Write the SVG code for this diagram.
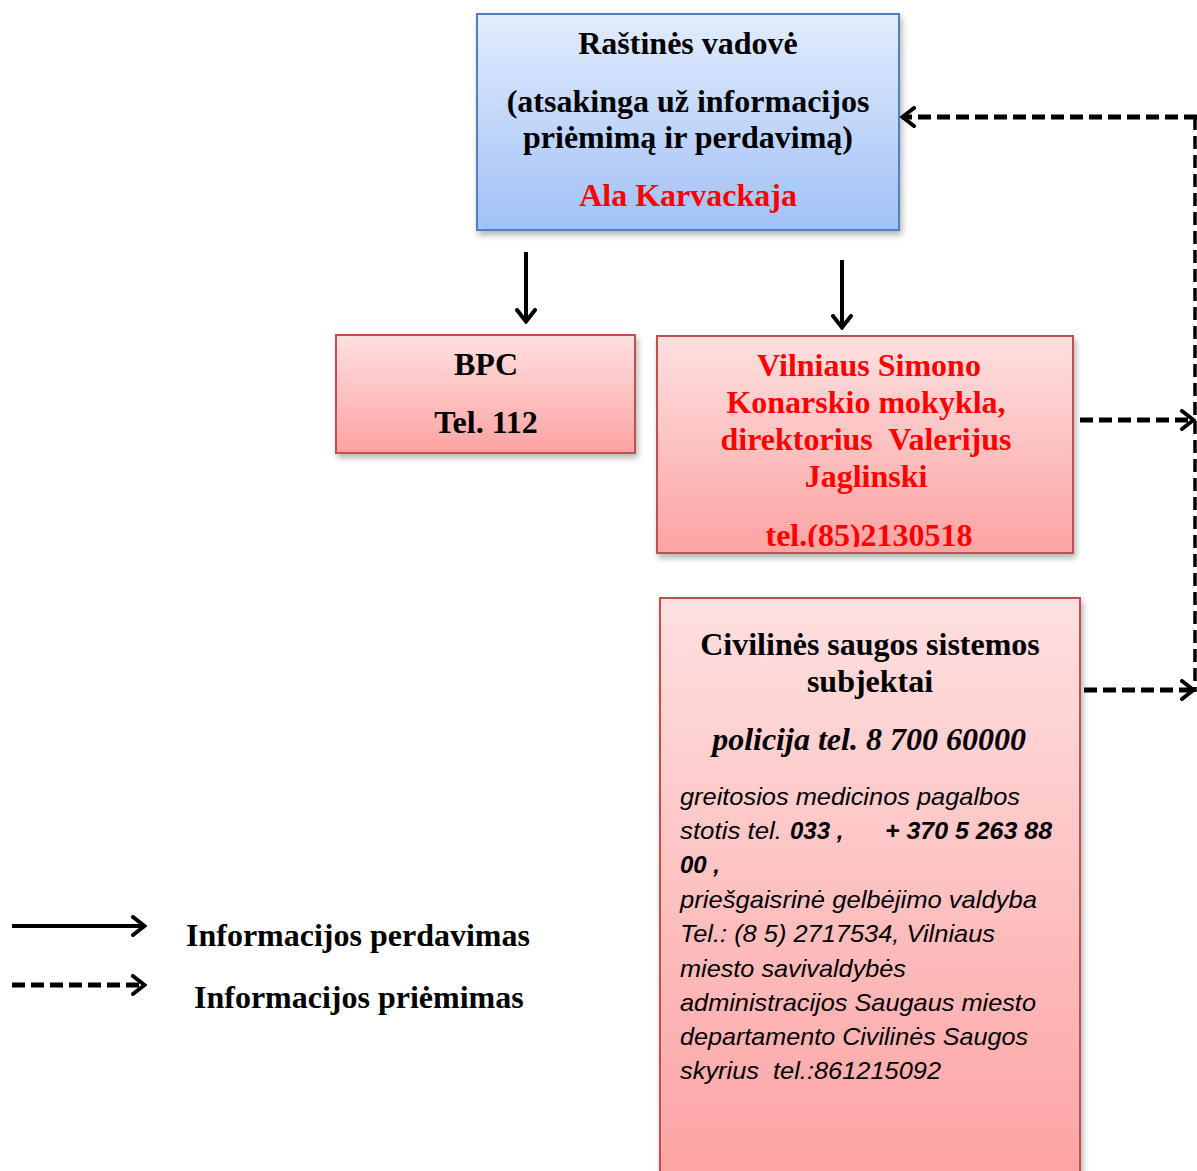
<svg xmlns="http://www.w3.org/2000/svg" width="1197" height="1171" viewBox="0 0 1197 1171">
<defs>
<linearGradient id="gBlue" x1="0" y1="0" x2="0" y2="1">
<stop offset="0" stop-color="#e2ecfd"/>
<stop offset="1" stop-color="#a2c1f7"/>
</linearGradient>
<linearGradient id="gRed" x1="0" y1="0" x2="0" y2="1">
<stop offset="0" stop-color="#fee0e0"/>
<stop offset="1" stop-color="#fda3a3"/>
</linearGradient>
<filter id="sh" x="-5%" y="-5%" width="115%" height="120%">
<feDropShadow dx="2" dy="4" stdDeviation="3" flood-color="#000" flood-opacity="0.3"/>
</filter>
<marker id="ah" viewBox="0 0 16 22" refX="14" refY="11" markerWidth="16" markerHeight="22" markerUnits="userSpaceOnUse" orient="auto">
<path d="M2,2 L13.5,11 L2,20" fill="none" stroke="#000" stroke-width="4" stroke-linejoin="miter" stroke-linecap="round"/>
</marker>
<clipPath id="clipV"><rect x="658" y="337" width="414" height="210"/></clipPath>
</defs>
<style>
.blue{fill:url(#gBlue);stroke:#4f81bd;stroke-width:2;filter:url(#sh)}
.red{fill:url(#gRed);stroke:#c0504d;stroke-width:2;filter:url(#sh)}
.t{font-family:"Liberation Serif","Times New Roman",serif;font-weight:bold;font-size:32px;text-anchor:middle}
.bk{fill:#000}
.rd{fill:#ff0000}
.bi{font-family:"Liberation Serif","Times New Roman",serif;font-weight:bold;font-style:italic;font-size:32px;text-anchor:middle;fill:#000}
.s{font-family:"Liberation Sans",Arial,sans-serif;font-style:italic;font-size:24px;fill:#000}
.sb{font-weight:bold}
.solid{fill:none;stroke:#000;stroke-width:4;marker-end:url(#ah)}
.dash{fill:none;stroke:#000;stroke-width:5;stroke-dasharray:13 6;marker-end:url(#ah)}
.lg{font-family:"Liberation Serif","Times New Roman",serif;font-weight:bold;font-size:32px;fill:#000}
</style>

<g id="node-vadove">
<rect class="blue" x="477" y="14" width="422" height="216"/>
<text class="t bk" x="688" y="54">Raštinės vadovė</text>
<text class="t bk" x="688" y="112">(atsakinga už informacijos</text>
<text class="t bk" x="688" y="148">priėmimą ir perdavimą)</text>
<text class="t rd" x="688" y="206">Ala Karvackaja</text>
</g>

<g id="node-bpc">
<rect class="red" x="336" y="335" width="299" height="118"/>
<text class="t bk" x="486" y="375">BPC</text>
<text class="t bk" x="486" y="433">Tel. 112</text>
</g>

<g id="node-mokykla">
<rect class="red" x="657" y="336" width="416" height="217"/>
<g clip-path="url(#clipV)">
<text class="t rd" x="869" y="376">Vilniaus Simono</text>
<text class="t rd" x="866" y="413">Konarskio mokykla,</text>
<text class="t rd" x="866" y="450" xml:space="preserve">direktorius  Valerijus</text>
<text class="t rd" x="866" y="487">Jaglinski</text>
<text class="t rd" x="869" y="546">tel.(85)2130518</text>
</g>
</g>

<g id="node-civiline">
<rect class="red" x="660" y="598" width="420" height="580"/>
<text class="t bk" x="870" y="655">Civilinės saugos sistemos</text>
<text class="t bk" x="870" y="692">subjektai</text>
<text class="bi" x="869" y="750">policija tel. 8 700 60000</text>
<text class="s" x="680" y="805" textLength="340" lengthAdjust="spacingAndGlyphs">greitosios medicinos pagalbos</text>
<text class="s" x="680" y="839" textLength="102" lengthAdjust="spacingAndGlyphs">stotis tel.</text>
<text class="s sb" x="790" y="839">033 ,</text>
<text class="s sb" x="885" y="839" textLength="167" lengthAdjust="spacingAndGlyphs">+ 370 5 263 88</text>
<text class="s sb" x="680" y="873">00 ,</text>
<text class="s" x="680" y="908" textLength="357" lengthAdjust="spacingAndGlyphs">priešgaisrinė gelbėjimo valdyba</text>
<text class="s" x="680" y="942" textLength="315" lengthAdjust="spacingAndGlyphs">Tel.: (8 5) 2717534, Vilniaus</text>
<text class="s" x="680" y="977" textLength="226" lengthAdjust="spacingAndGlyphs">miesto savivaldybės</text>
<text class="s" x="680" y="1011" textLength="356" lengthAdjust="spacingAndGlyphs">administracijos Saugaus miesto</text>
<text class="s" x="680" y="1045" textLength="348" lengthAdjust="spacingAndGlyphs">departamento Civilinės Saugos</text>
<text class="s" x="680" y="1079" textLength="261" lengthAdjust="spacingAndGlyphs" xml:space="preserve">skyrius  tel.:861215092</text>
</g>

<g id="connectors">
<path class="solid" d="M526,252 L526,322"/>
<path class="solid" d="M842,260 L842,328"/>
<path class="dash" d="M1197,117 L902,117"/>
<path d="M1195,117 L1195,692" fill="none" stroke="#000" stroke-width="3.5" stroke-dasharray="13 6"/>
<path class="dash" d="M1080,420 L1194,420"/>
<path class="dash" d="M1084,690 L1194,690"/>
</g>

<g id="legend">
<path class="solid" d="M12,926 L145,926"/>
<path class="dash" d="M12,985 L145,985"/>
<text class="lg" x="186" y="946">Informacijos perdavimas</text>
<text class="lg" x="194" y="1008">Informacijos priėmimas</text>
</g>
</svg>
